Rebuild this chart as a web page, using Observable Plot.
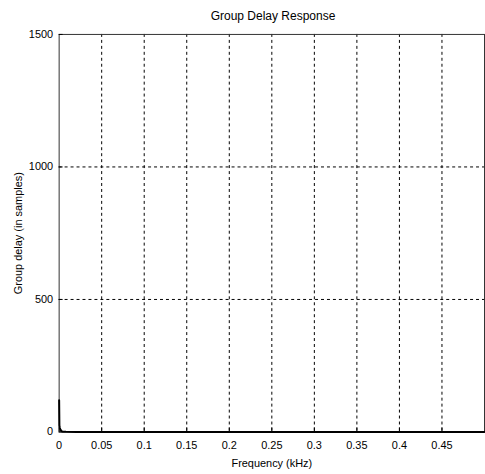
<!DOCTYPE html>
<html>
<head>
<meta charset="utf-8">
<script src="https://cdn.jsdelivr.net/npm/d3@7"></script>
<script src="https://cdn.jsdelivr.net/npm/@observablehq/plot@0.6"></script>
<style>
  html, body { margin: 0; padding: 0; background: #fff; overflow: hidden; width: 485px; height: 474px; }
  #title { height: 24px; width: 488px; font: 12px "Liberation Sans", Arial, sans-serif; color: #000; position: relative; }
  #title span { position: absolute; left: 273px; transform: translateX(-50%); top: 9px; white-space: nowrap; }
  svg { display: block; }
</style>
</head>
<body>
<div id="title"><span>Group Delay Response</span></div>
<div id="chart"></div>
<script>
// Data (frequency in kHz, group delay in samples)
const freq  = [0, 0.0003, 0.0008, 0.0015, 0.0025, 0.0035, 0.005, 0.008, 0.02, 0.1, 0.2, 0.3, 0.4, 0.5];
const delay = [120, 25, 15, 9, 4, 2, 1, 0.5, 0.2, 0.1, 0.1, 0.1, 0.1, 0.1];
const xTicks = [0, 0.05, 0.1, 0.15, 0.2, 0.25, 0.3, 0.35, 0.4, 0.45];
const xTickLabels = ["0", "0.05", "0.1", "0.15", "0.2", "0.25", "0.3", "0.35", "0.4", "0.45"];
const xGrid = [0.05, 0.1, 0.15, 0.2, 0.25, 0.3, 0.35, 0.4, 0.45];
const yTicks = [0, 500, 1000, 1500];
const yTickLabels = ["0", "500", "1000", "1500"];
const yGrid = [500, 1000];

const data = freq.map((f, i) => ({f, d: delay[i]}));

const chart = Plot.plot({
  width: 488,
  height: 450,
  marginLeft: 59,
  marginRight: 1,
  marginTop: 10,
  marginBottom: 40,
  style: {fontFamily: "'Liberation Sans', Arial, sans-serif", fontSize: "11px", color: "#000", background: "#fff", overflow: "visible"},
  x: {domain: [0, 0.5]},
  y: {domain: [0, 1500]},
  marks: [
    Plot.ruleX(xGrid, {stroke: "#000", strokeDasharray: "3,3", strokeWidth: 1}),
    Plot.ruleY(yGrid, {stroke: "#000", strokeDasharray: "3,3", strokeWidth: 1}),
    Plot.frame({stroke: "#333", strokeWidth: 1}),
    Plot.axisX({ticks: xTicks, tickFormat: (d, i) => xTickLabels[i], tickSize: 0, tickPadding: 9, label: "Frequency (kHz)", labelAnchor: "center", labelArrow: "none", labelOffset: 35, fontSize: 11}),
    Plot.axisX({ticks: xTicks, tickSize: -4, text: null, label: null, stroke: "#000"}),
    Plot.axisY({ticks: yTicks, tickFormat: (d, i) => yTickLabels[i], tickSize: 0, tickPadding: 6, label: "Group delay (in samples)", labelAnchor: "center", labelArrow: "none", labelOffset: 45, fontSize: 11}),
    Plot.axisY({ticks: yTicks, tickSize: -4, text: null, label: null, stroke: "#000"}),
    Plot.line(data, {x: "f", y: "d", stroke: "#000", strokeWidth: 2})
  ]
});
document.getElementById("chart").appendChild(chart);
</script>
</body>
</html>
